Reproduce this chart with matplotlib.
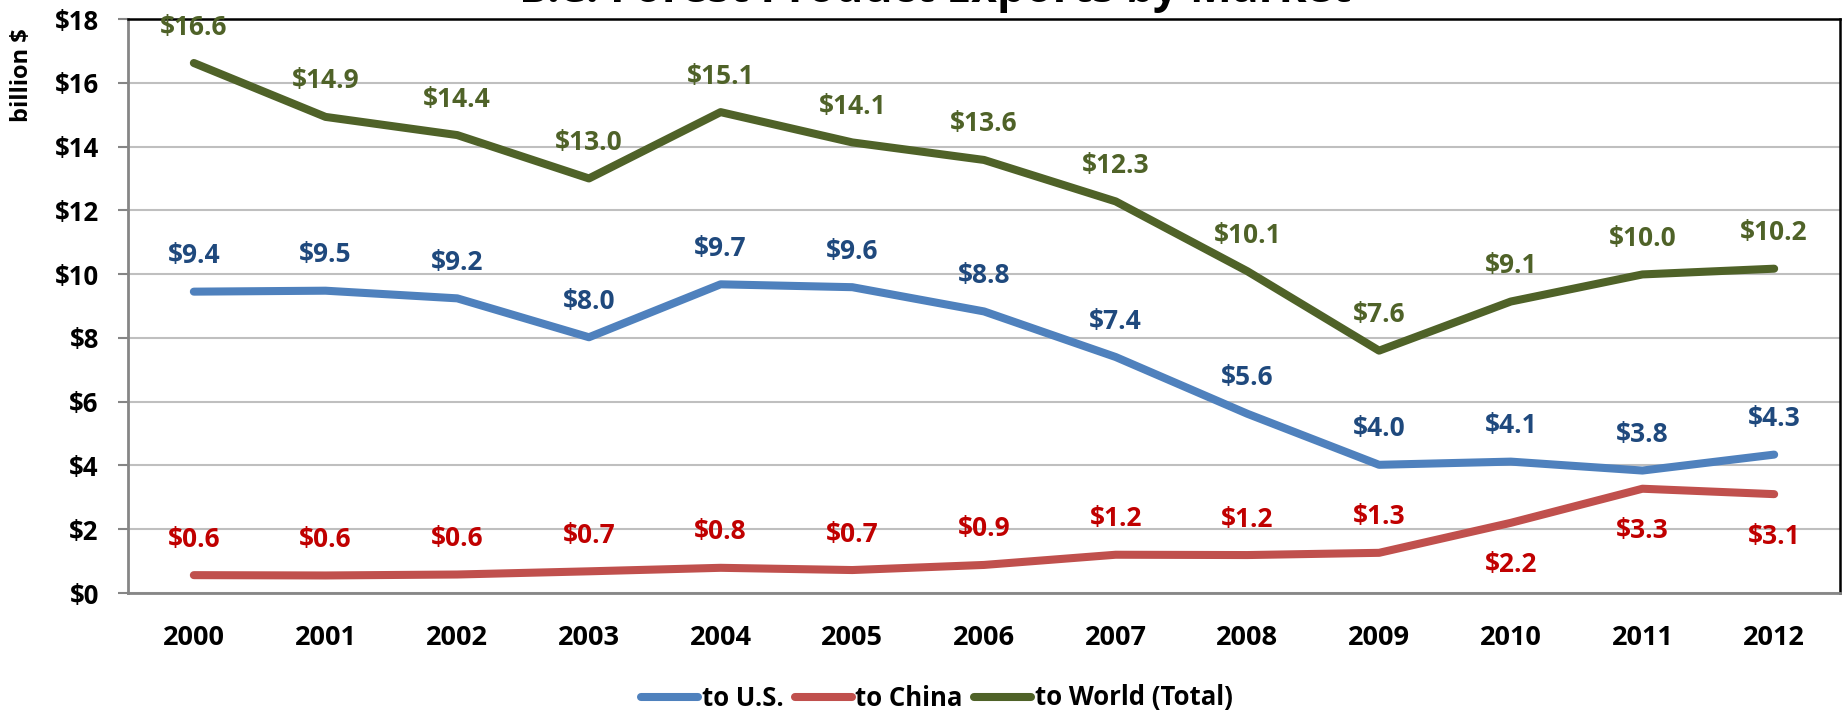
import matplotlib
matplotlib.use("Agg")
import matplotlib.pyplot as plt
from matplotlib.ticker import FuncFormatter

plt.rcParams['font.family'] = ['Open Sans', 'DejaVu Sans']
plt.rcParams['font.weight'] = 'bold'

years = ["2000", "2001", "2002", "2003", "2004", "2005", "2006",
         "2007", "2008", "2009", "2010", "2011", "2012"]
to_us = [9.45, 9.48, 9.24, 8.02, 9.68, 9.59, 8.83, 7.40, 5.62, 4.02, 4.12, 3.84, 4.34]
to_china = [0.56, 0.55, 0.58, 0.68, 0.79, 0.72, 0.88, 1.20, 1.19, 1.26, 2.20, 3.27, 3.10]
to_world = [16.62, 14.93, 14.36, 13.00, 15.08, 14.13, 13.58, 12.28, 10.09, 7.60, 9.14, 9.99, 10.17]

# label placement: +1 above the point, -1 below
china_side = [1, 1, 1, 1, 1, 1, 1, 1, 1, 1, -1, -1, -1]

series = [
    ("to U.S.", to_us, "#4F81BD", "#1F497D", [1] * 13),
    ("to China", to_china, "#C0504D", "#C00000", china_side),
    ("to World (Total)", to_world, "#4F6228", "#4F6228", [1] * 13),
]

fig = plt.figure(figsize=(18.46, 7.12), dpi=100)
ax = fig.add_axes([0.06934, 0.16713, 0.92741, 0.80618])

x = list(range(len(years)))
for name, vals, col, lab_col, side in series:
    ax.plot(x, vals, color=col, lw=5.8, label=name,
            solid_capstyle='round', solid_joinstyle='round', zorder=3)
    for xi, v, s in zip(x, vals, side):
        off = 36 if s > 0 else -42
        ax.annotate("$%.1f" % v, (xi, v), xytext=(0, off),
                    textcoords='offset pixels', ha='center', va='center',
                    fontsize=19, color=lab_col, fontweight='bold', zorder=4)

ax.set_xlim(-0.5, len(years) - 0.5)
ax.set_ylim(0, 18)
ax.set_yticks(range(0, 19, 2))
ax.yaxis.set_major_formatter(FuncFormatter(lambda v, p: "$%d" % v))
ax.set_xticks(x)
ax.set_xticklabels(years)
ax.tick_params(axis='x', length=0, pad=23, labelsize=19.5)
ax.tick_params(axis='y', length=7, width=1.5, color='#868686', pad=14,
               labelsize=18.5, direction='out')
ax.grid(axis='y', color='#BFBFBF', lw=1.5, zorder=0)
ax.set_axisbelow(True)

for side_name in ['left', 'bottom']:
    ax.spines[side_name].set_color('#868686')
    ax.spines[side_name].set_linewidth(2)
for side_name in ['top', 'right']:
    ax.spines[side_name].set_color('black')
    ax.spines[side_name].set_linewidth(1.8)

fig.text(22 / 1846, 1 - 75 / 712, "billion $", rotation=90, ha='center',
         va='center', fontsize=17, fontweight='bold')

fig.text(0.5065, 1 - 2 / 712, "B.C. Forest Product Exports by Market",
         ha='center', va='baseline', fontsize=32, fontweight='bold')

ax.legend(loc='center', bbox_to_anchor=(937 / 1846, 1 - 698 / 712),
          bbox_transform=fig.transFigure, ncol=3, frameon=False,
          fontsize=18.5, handlelength=2.2, handletextpad=0.15,
          columnspacing=0.45)

plt.savefig("out.png", dpi=100)
